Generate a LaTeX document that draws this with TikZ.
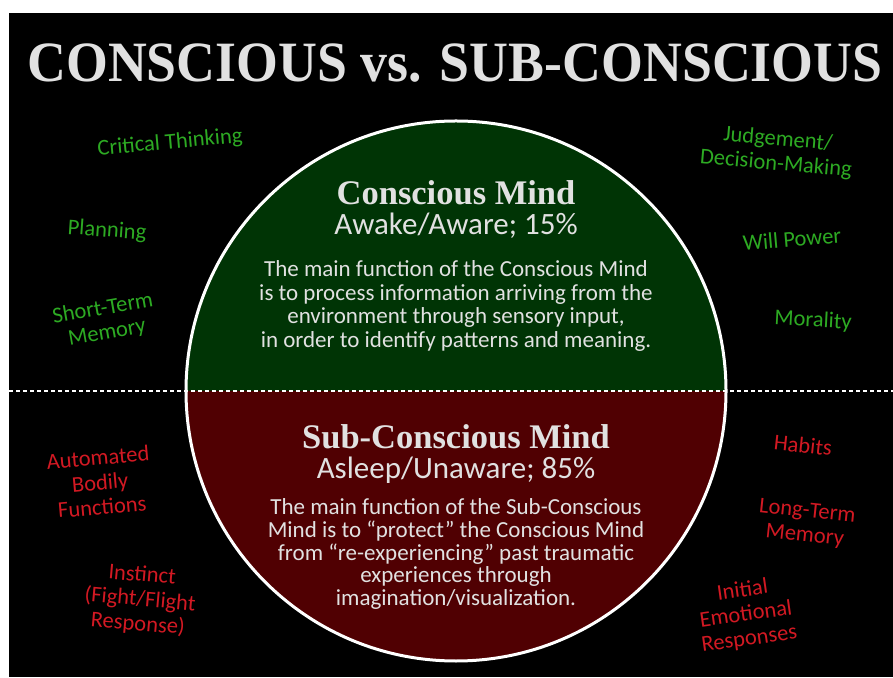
\documentclass[tikz,border=0pt]{standalone}
\usepackage{fontspec}
\setmainfont{Carlito}
\newfontfamily\headfont{Liberation Serif}
\definecolor{upgreen}{RGB}{0,52,5}
\definecolor{lowred}{RGB}{80,0,2}
\definecolor{labgreen}{RGB}{45,170,35}
\definecolor{labred}{RGB}{210,25,35}
\definecolor{headgray}{RGB}{225,225,225}
\begin{document}
\begin{tikzpicture}[x=1pt,y=1pt,
                    glab/.style = {text=labgreen, align=center, font=\fontsize{22.5}{24.5}\selectfont},
                    rlab/.style = {text=labred, align=center, font=\fontsize{22.5}{24.5}\selectfont},
                    head/.style = {text=headgray, font=\headfont\bfseries\fontsize{34.5}{38}\selectfont},
                    sub/.style = {text=headgray, font=\fontsize{31}{34}\selectfont},
                    body/.style = {text=headgray, align=center, font=\fontsize{23}{23.5}\selectfont}]
                    \useasboundingbox (0,0) rectangle (893,677);
                    \fill[white] (0,0) rectangle (893,677);
                    \fill[black] (9,0) rectangle (893,664);

                    % the two halves of the mind
                    \coordinate (c) at (456,286);
                    \fill[upgreen] (186,286) arc[start angle=180, end angle=0, radius=270] -- cycle;
                    \fill[lowred] (186,286) arc[start angle=180, end angle=360, radius=270] -- cycle;
                    \draw[white, line width=3pt] (c) circle (270);
                    \draw[white, line width=2pt, dash pattern=on 4pt off 3pt] (9,286) -- (893,286);

                    \node[text=headgray, xscale=0.944, font=\headfont\bfseries\fontsize{57}{60}\selectfont] (title) at (455,614) {CONSCIOUS vs. SUB-CONSCIOUS};

                    \node[head] (cm) at (456,484) {Conscious Mind};
                    \node[sub] (cma) at (456,451) {Awake/Aware; 15\%};
                    \node[body] (cmb) at (456,371) {The main function of the Conscious Mind\\
                        is to process information arriving from the\\
                        environment through sensory input,\\
                        in order to identify patterns and meaning.};

                    \node[head] (sm) at (456,240) {Sub-Conscious Mind};
                    \node[sub] (sma) at (456,207) {Asleep/Unaware; 85\%};
                    \node[body, font=\fontsize{23}{22.8}\selectfont] (smb) at (456,123) {The main function of the Sub-Conscious\\
                        Mind is to ``protect'' the Conscious Mind\\
                        from ``re-experiencing'' past traumatic\\
                        experiences through\\
                        imagination/visualization.};

                    % conscious side
                    \node[glab, rotate=5] (ct) at (170,534) {Critical Thinking};
                    \node[glab, rotate=-4] (pl) at (107,446) {Planning};
                    \node[glab, rotate=10] (stm) at (105,356) {Short-Term\\Memory};
                    \node[glab, rotate=-5] (jd) at (777,525) {Judgement/\\Decision-Making};
                    \node[glab, rotate=5] (wp) at (792,438) {Will Power};
                    \node[glab, rotate=-3] (mo) at (813,356) {Morality};

                    % sub-conscious side
                    \node[rlab, rotate=5] (ab) at (100,195) {Automated\\Bodily\\Functions};
                    \node[rlab, rotate=-5] (in) at (140,77) {Instinct\\(Fight/Flight\\Response)};
                    \node[rlab, rotate=-6] (hb) at (803,232) {Habits};
                    \node[rlab, rotate=-6] (ltm) at (806,153) {Long-Term\\Memory};
                    \node[rlab, rotate=8] (ie) at (746,62) {Initial\\Emotional\\Responses};
                \end{tikzpicture}
\end{document}
